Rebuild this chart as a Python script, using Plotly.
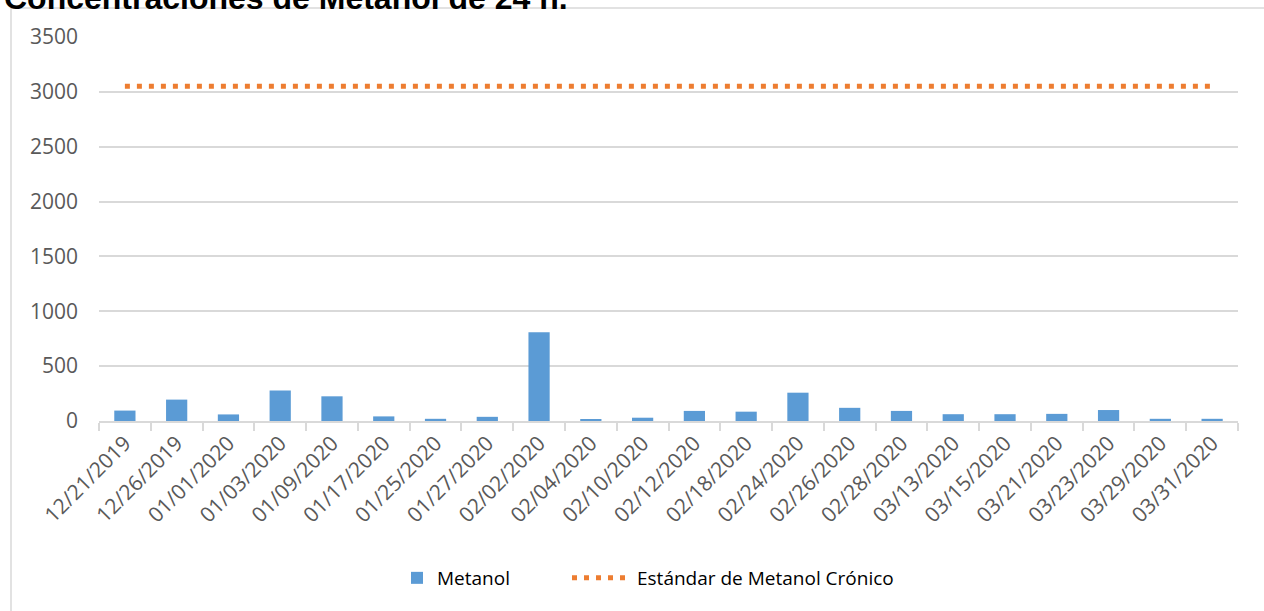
import plotly.graph_objects as go

fechas = ["12/21/2019", "12/26/2019", "01/01/2020", "01/03/2020", "01/09/2020",
          "01/17/2020", "01/25/2020", "01/27/2020", "02/02/2020", "02/04/2020",
          "02/10/2020", "02/12/2020", "02/18/2020", "02/24/2020", "02/26/2020",
          "02/28/2020", "03/13/2020", "03/15/2020", "03/21/2020", "03/23/2020",
          "03/29/2020", "03/31/2020"]
metanol = [95, 195, 60, 278, 225, 42, 20, 38, 808, 12, 30, 92, 85, 258, 120,
           92, 62, 62, 65, 100, 20, 20]
estandar = [3050] * len(fechas)

W, H = 1264, 611
L, R, T, B = 99, 26, 37, 190
pw, ph = W - L - R, H - T - B

def px(x):
    return (x - L) / pw

def py(y):
    return (H - B - y) / ph

fig = go.Figure()
fig.add_trace(go.Bar(x=fechas, y=metanol, name="Metanol", legend="legend",
                     marker=dict(color="#5B9BD5", line=dict(width=0))))
fig.add_trace(go.Scatter(x=fechas, y=estandar, name="Estándar de Metanol Crónico",
                         mode="lines", legend="legend2",
                         line=dict(color="#ED7D31", width=5, dash="5px,7px")))

legfont = dict(size=19, color="#000000", family="Open Sans")
fig.update_layout(
    width=W, height=H,
    margin=dict(l=L, r=R, t=T, b=B, autoexpand=False),
    paper_bgcolor="white", plot_bgcolor="white",
    font=dict(family="Open Sans", color="#595959"),
    bargap=0.59,
    showlegend=True,
    legend=dict(orientation="h", x=px(397), xanchor="left", y=py(578), yanchor="middle",
                font=legfont, bgcolor="rgba(0,0,0,0)"),
    legend2=dict(orientation="h", x=px(567), xanchor="left", y=py(578), yanchor="middle",
                 font=legfont, itemwidth=60, bgcolor="rgba(0,0,0,0)"),
    xaxis=dict(type="category", tickangle=-45, tickfont=dict(size=21, color="#595959"),
               showline=True, linecolor="#d9d9d9", linewidth=1.5,
               ticks="outside", tickson="boundaries", ticklen=8, tickcolor="#d9d9d9",
               tickwidth=1.5, showgrid=False, fixedrange=True),
    yaxis=dict(range=[0, 3500], dtick=500, tickfont=dict(size=21, color="#595959"),
               showgrid=True, gridcolor="#d9d9d9", gridwidth=1.5, zeroline=False,
               showline=False, ticks="", ticklabelstandoff=20),
    shapes=[dict(type="rect", xref="paper", yref="paper",
                 x0=px(11), x1=px(1266), y0=py(620), y1=py(8),
                 line=dict(color="#d9d9d9", width=1.5), fillcolor="rgba(0,0,0,0)",
                 layer="below")],
    annotations=[dict(text="<b>Concentraciones de Metanol de 24 h.</b>",
                      xref="paper", yref="paper", x=px(2), y=py(-1.5),
                      xanchor="left", yanchor="middle", showarrow=False,
                      font=dict(family="Liberation Sans", size=32, color="#000000"))],
)

fig.write_html("out.html")
